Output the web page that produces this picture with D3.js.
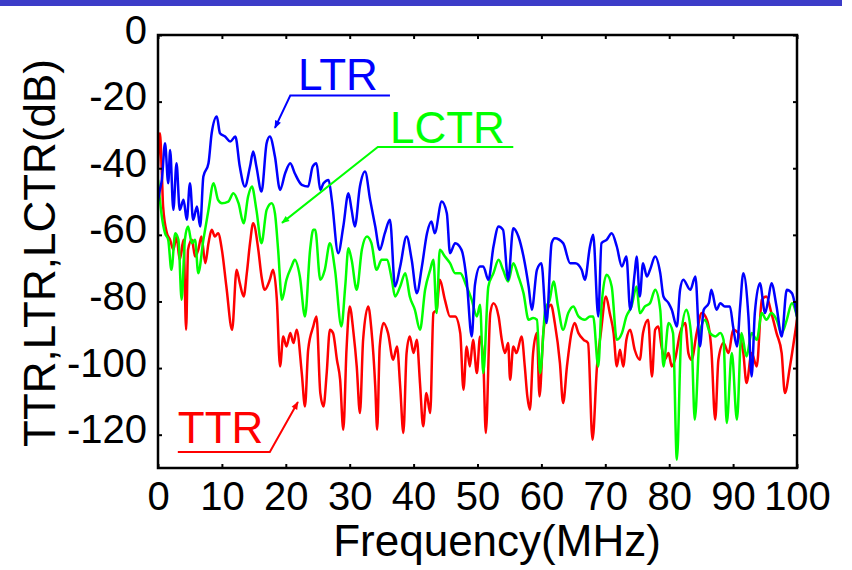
<!DOCTYPE html>
<html>
<head>
<meta charset="utf-8">
<script src="https://cdn.jsdelivr.net/npm/d3@7"></script>
<style>
  body { margin: 0; background: #fff; }
  text { font-family: "Liberation Sans", Arial, Helvetica, sans-serif; }
</style>
</head>
<body>
<svg width="852" height="570"></svg>
<script>
// LTR / LCTR / TTR spectra, [frequency MHz, dB]
const ltr = [
  [0,-50],[0.3,-46.5],[0.6,-43.5],[1.1,-32.5],[1.6,-44.5],[1.9,-34.5],[2.4,-52.5],[2.9,-38.5],[3.4,-52.5],
  [4.0,-49.5],[4.5,-55.5],[5.0,-44.5],[5.5,-55.5],[6.1,-51.5],[6.6,-57.5],[7.1,-42.5],[7.9,-38.5],[8.4,-29.5],
  [9.2,-24.5],[9.7,-29.5],[10.5,-30.5],[11.3,-32],[12.1,-30.5],[12.8,-39.5],[13.6,-45.5],[14.4,-39.5],[14.9,-35],
  [15.4,-39.5],[16.2,-47],[17.0,-32.5],[17.5,-30.5],[18.3,-36.5],[19.1,-46.5],[19.9,-41.5],[20.7,-38.5],[21.4,-41.5],
  [22.5,-45],[23.5,-45.5],[24.2,-39.5],[24.8,-38.5],[25.4,-46.5],[25.9,-44.5],[26.7,-43.5],[27.2,-49.5],[28.2,-65.5],
  [29.0,-57.5],[29.8,-47.5],[30.3,-52.5],[30.8,-57.5],[31.6,-45.5],[32.4,-41],[33.2,-49.5],[34.0,-57.5],[34.7,-64.5],
  [35.5,-59.5],[36.3,-55.5],[37.1,-75.5],[37.9,-69.5],[38.9,-60.5],[39.7,-67.5],[40.5,-77.5],[41.3,-69.5],[42.1,-59.5],
  [42.8,-56],[43.3,-59.5],[44.4,-50],[45.2,-53.5],[45.7,-65.5],[46.5,-62.5],[47.5,-64.5],[48.3,-73.5],[49.1,-90.5],
  [49.6,-75],[50.4,-69.5],[50.9,-69.5],[51.7,-73.5],[52.5,-63.5],[53.3,-57.5],[54.0,-58.5],[54.8,-73.5],[55.6,-58],
  [56.4,-60.5],[57.2,-66.5],[58.0,-75.5],[58.5,-82.5],[59.3,-70.5],[60.0,-68.5],[60.8,-86.5],[61.6,-62.5],[62.1,-61],
  [63.4,-62.5],[64.5,-68.5],[65.3,-68.5],[66.3,-70.5],[66.8,-73.5],[67.6,-63.5],[68.1,-60],[68.9,-84.5],[69.4,-62.5],
  [70.2,-61.5],[71.0,-59.5],[71.8,-63.5],[72.6,-69.5],[73.3,-66.5],[73.9,-82.5],[74.6,-71.5],[74.9,-66.5],[75.4,-78.5],
  [75.9,-68.5],[76.5,-72.5],[77.0,-70.5],[77.8,-66.5],[78.6,-71.5],[79.1,-78.5],[79.9,-80.5],[80.4,-82.5],[81.2,-87.5],
  [81.7,-76.5],[82.2,-73.5],[83.3,-76.5],[84.1,-72.5],[84.8,-93.5],[85.4,-82.5],[86.2,-80.5],[86.6,-76.5],[87.4,-82.5],
  [88.0,-80.5],[88.7,-81.5],[89.5,-81.5],[90.0,-87.5],[90.6,-93.5],[91.1,-81.5],[91.6,-71.5],[92.4,-84.5],[92.9,-102.5],
  [93.4,-83.5],[94.2,-74.5],[95.0,-83.5],[95.5,-79.5],[96.0,-74.5],[96.8,-81.5],[97.6,-90.5],[98.4,-76.5],[99.2,-77.5],
  [100,-84.5]
];

const lctr = [
  [0,-43.5],[0.6,-54.5],[1.1,-59.5],[1.6,-61.5],[2.1,-70.5],[2.7,-59.5],[3.2,-61.5],[3.7,-79.5],[4.2,-61.5],
  [4.7,-57.5],[5.3,-62.5],[5.8,-61.5],[6.3,-71.5],[7.1,-61.5],[7.9,-52.5],[8.7,-44.5],[9.4,-49.5],[10.0,-50.5],
  [11.0,-50],[11.8,-47.5],[12.6,-50.5],[13.4,-56.5],[14.1,-48.5],[14.7,-45.5],[15.4,-52.5],[16.2,-62.5],[17.0,-52.5],
  [17.8,-50.5],[18.3,-53.5],[18.8,-64.5],[19.4,-79.5],[20.1,-73.5],[20.9,-69.5],[21.4,-67.5],[22.2,-72.5],[23.0,-84.5],
  [23.8,-64.5],[24.3,-58.5],[24.6,-58.5],[25.4,-73.5],[26.1,-70.5],[26.9,-62.5],[27.7,-70.5],[28.7,-87.5],[29.3,-75.5],
  [29.8,-64],[30.3,-67.5],[31.1,-76.5],[31.9,-64.5],[32.7,-60.5],[33.4,-62.5],[34.2,-70.5],[35.0,-67.5],[35.8,-67.5],
  [36.6,-73.5],[37.1,-78.5],[37.9,-75.5],[38.7,-71.5],[39.4,-78.5],[40.2,-82.5],[41.0,-88.5],[41.8,-76.5],[42.6,-70.5],
  [43.1,-67.5],[43.6,-83.5],[44.1,-64.5],[44.9,-66.5],[45.7,-68.5],[46.5,-71.5],[47.3,-71.5],[48.3,-75.5],[49.1,-79.5],
  [49.9,-84.5],[50.4,-81],[50.9,-101.5],[51.7,-75.5],[52.5,-71.5],[53.3,-67.5],[54.0,-70.5],[54.8,-74],[55.6,-68.5],
  [56.4,-72.5],[57.2,-77.5],[58.0,-85.5],[58.7,-85],[59.3,-85.5],[59.8,-101.5],[60.6,-82.5],[61.3,-79.5],[61.9,-74],
  [62.6,-81.5],[63.4,-88.5],[64.2,-83.5],[65.0,-81.5],[65.8,-84.5],[66.8,-85.5],[67.6,-84.5],[68.1,-84.5],[68.9,-99.5],
  [69.4,-81.5],[70.2,-72],[71.0,-75.5],[71.8,-91.5],[72.6,-89.5],[73.3,-84.5],[74.1,-81.5],[74.9,-75.5],[75.4,-83.5],
  [76.2,-81.5],[77.0,-80.5],[77.8,-76.5],[78.6,-82.5],[79.1,-99.5],[79.9,-86.5],[80.6,-89.5],[81.2,-127.5],[81.9,-89.5],
  [82.7,-82.5],[83.5,-91.5],[84.0,-115.5],[84.8,-89.5],[85.6,-85.5],[86.4,-89.5],[87.2,-90.5],[88.0,-89.5],[88.5,-91.5],
  [89.0,-116.5],[89.8,-95.5],[90.6,-115.5],[91.3,-89.5],[92.1,-96.5],[92.9,-89.5],[93.7,-91.5],[94.5,-83.5],[95.2,-85.5],
  [96.0,-83.5],[96.8,-85.5],[97.6,-89.5],[98.4,-85.5],[99.2,-80.5],[100,-84.5]
];

const ttr = [
  [0,-40],[0.3,-29.5],[0.6,-41.5],[0.8,-51.5],[1.4,-59.5],[1.9,-61.5],[2.4,-64.5],[2.9,-60.5],[3.4,-67.5],
  [4.0,-61.5],[4.4,-88.5],[4.7,-64.5],[5.3,-61.5],[5.8,-66.5],[6.3,-64.5],[6.8,-60.5],[7.4,-68.5],[7.9,-62.5],
  [8.4,-58.5],[8.9,-60.5],[9.4,-59.5],[10.0,-64.5],[10.7,-75.5],[11.6,-88.5],[12.3,-70.5],[12.8,-74.5],[13.4,-78.5],
  [13.9,-71.5],[14.4,-62.5],[14.9,-56.5],[15.7,-64.5],[16.2,-72.5],[16.7,-76.5],[17.5,-73.5],[18.0,-70.5],[18.6,-79.5],
  [19.1,-99.5],[19.6,-90.5],[20.1,-93.5],[20.7,-89.5],[21.2,-92.5],[21.7,-88.5],[22.5,-101.5],[23.0,-111.5],[23.5,-94.5],
  [24.3,-87.5],[24.8,-84.5],[25.4,-107.5],[25.9,-111.5],[26.4,-101.5],[26.9,-88.5],[27.4,-89.5],[28.0,-97.5],[28.5,-103.5],
  [29.0,-118.5],[29.5,-94.5],[30.0,-81.5],[30.6,-89.5],[31.1,-99.5],[31.6,-113.5],[32.1,-91.5],[32.9,-81.5],[33.4,-88.5],
  [34.0,-105.5],[34.3,-118.5],[34.7,-93.5],[35.3,-86.5],[36.0,-89.5],[36.8,-97.5],[37.4,-93.5],[37.9,-105.5],[38.4,-119.5],
  [38.9,-95.5],[39.4,-90.5],[40.0,-95.5],[40.5,-91.5],[41.0,-104.5],[41.5,-117.5],[42.0,-107.5],[42.6,-113.5],[43.1,-83.5],
  [43.6,-82.5],[44.1,-73.5],[44.9,-79.5],[45.7,-84.5],[46.5,-84.5],[47.3,-89.5],[47.8,-106.5],[48.3,-93.5],[48.8,-99.5],
  [49.3,-91.5],[49.9,-101.5],[50.4,-90.5],[50.9,-97.5],[51.3,-119.5],[52.0,-83.5],[52.5,-80.5],[53.3,-84.5],[53.8,-91.5],
  [54.3,-95.5],[54.8,-92.5],[55.1,-103.5],[55.6,-93.5],[56.1,-95.5],[56.9,-90.5],[57.4,-99.5],[57.8,-108.5],[58.2,-112.5],
  [58.7,-95.5],[59.3,-89.5],[59.7,-108.5],[60.3,-89.5],[60.8,-83.5],[61.5,-81],[62.1,-86.5],[62.9,-98.5],[63.4,-110.5],
  [64.0,-99.5],[64.7,-89.5],[65.2,-86.5],[65.8,-89.5],[66.6,-91.5],[67.3,-92.5],[68.0,-121.5],[68.7,-99.5],[69.3,-89.5],
  [70.1,-78.5],[70.7,-83.5],[71.3,-89.5],[71.8,-99.5],[72.3,-94.5],[72.8,-99.5],[73.3,-91.5],[73.9,-88.5],[74.6,-94.5],
  [75.4,-97.5],[75.9,-89.5],[76.7,-85.5],[77.3,-102.5],[77.8,-88.5],[78.3,-87.5],[78.8,-93.5],[79.3,-97.5],[79.9,-95.5],
  [80.4,-99.5],[80.9,-97.5],[81.7,-89.5],[82.5,-86.5],[83.0,-95.5],[83.5,-97.5],[84.3,-89.5],[85.1,-83.5],[85.9,-85.5],
  [86.6,-94.5],[87.2,-115.5],[87.7,-97.5],[88.5,-92.5],[89.3,-95.5],[90.0,-88.5],[90.8,-89.5],[91.6,-95.5],[92.1,-104.5],
  [92.9,-95.5],[93.7,-99.5],[94.5,-79.5],[95.2,-78.5],[96.0,-83.5],[96.8,-89.5],[97.6,-95.5],[98.1,-107.5],[98.9,-99.5],
  [99.7,-89.5],[100,-85.5]
];

const xTicks = d3.range(0, 101, 10);
const yTicks = [0, -20, -40, -60, -80, -100, -120];

// labels: text start, underline + arrow (last point is the tip), data units
const notes = [
  { name: "LTR",  color: "#0000ff", text: [21.9, -16.5], line: [[36.3, -18.2], [20.7, -18.2], [18.3, -27.9]] },
  { name: "LCTR", color: "#00ff00", text: [36.3, -32.4], line: [[55.6, -33.6], [34.4, -33.6], [19.4, -56.4]] },
  { name: "TTR",  color: "#ff0000", text: [3.1, -122.6], line: [[3.1, -125.2], [17.5, -125.2], [21.9, -110.2]] }
];

const svg = d3.select("svg");
const margin = { top: 35, right: 55, bottom: 102, left: 158 };
const width = +svg.attr("width") - margin.left - margin.right;
const height = +svg.attr("height") - margin.top - margin.bottom;

// blue bar across the top
svg.append("rect").attr("x", 0).attr("y", 0).attr("width", 842).attr("height", 6).attr("fill", "#3c3cc8");

const x = d3.scaleLinear().domain([0, 100]).range([0, width]);
const y = d3.scaleLinear().domain([-130, 0]).range([height, 0]);

const g = svg.append("g").attr("transform", `translate(${margin.left},${margin.top})`);

g.append("clipPath").attr("id", "clip")
  .append("rect").attr("width", width).attr("height", height);

const line = d3.line().curve(d3.curveMonotoneX).x(d => x(d[0])).y(d => y(d[1]));
const plot = g.append("g").attr("clip-path", "url(#clip)");
[[ttr, "#ff0000"], [lctr, "#00ff00"], [ltr, "#0000ff"]].forEach(([data, color]) => {
  plot.append("path")
    .datum(data)
    .attr("d", line)
    .attr("fill", "none")
    .attr("stroke", color)
    .attr("stroke-width", 2.5)
    .attr("stroke-linejoin", "round");
});

// axes, ticks pointing inward, plain hyphen for negatives
const fmt = d => String(d);
const xAxis = g.append("g").attr("transform", `translate(0,${height})`)
  .call(d3.axisBottom(x).tickValues(xTicks).tickFormat(fmt).tickSize(-4).tickSizeOuter(0).tickPadding(14));
const yAxis = g.append("g")
  .call(d3.axisLeft(y).tickValues(yTicks).tickFormat(fmt).tickSize(-4).tickSizeOuter(0).tickPadding(11));
g.append("g")
  .call(d3.axisTop(x).tickValues(xTicks).tickSize(-4).tickSizeOuter(0).tickFormat(""));
g.append("g").attr("transform", `translate(${width},0)`)
  .call(d3.axisRight(y).tickValues(yTicks).tickSize(-4).tickSizeOuter(0).tickFormat(""));

g.selectAll(".domain").remove();
g.selectAll(".tick line").attr("stroke", "#000").attr("stroke-width", 2);
g.selectAll(".tick text").attr("font-size", 40).attr("fill", "#000")
  .attr("font-family", "'Liberation Sans', Arial, sans-serif");
yAxis.selectAll(".tick text").attr("dy", "0.2em");

// frame
g.append("rect")
  .attr("width", width).attr("height", height)
  .attr("fill", "none").attr("stroke", "#000").attr("stroke-width", 2.5);

svg.append("text")
  .attr("x", 497).attr("y", 556)
  .attr("text-anchor", "middle").attr("font-size", 44)
  .text("Frequency(MHz)");

svg.append("text")
  .attr("transform", "translate(55,253) rotate(-90)")
  .attr("text-anchor", "middle").attr("font-size", 44)
  .text("TTR,LTR,LCTR(dB)");

// series labels with arrows
const defs = svg.append("defs");
notes.forEach((n, i) => {
  defs.append("marker")
    .attr("id", "arrow" + i)
    .attr("viewBox", "0 0 10 10").attr("refX", 9).attr("refY", 5)
    .attr("markerWidth", 6).attr("markerHeight", 4)
    .attr("orient", "auto")
    .append("path").attr("d", "M0,1 L10,5 L0,9 Z").attr("fill", n.color);

  g.append("text")
    .attr("x", x(n.text[0])).attr("y", y(n.text[1]))
    .attr("font-size", 44).attr("fill", n.color)
    .text(n.name);

  g.append("path")
    .attr("d", d3.line().x(d => x(d[0])).y(d => y(d[1]))(n.line))
    .attr("fill", "none").attr("stroke", n.color).attr("stroke-width", 2)
    .attr("marker-end", `url(#arrow${i})`);
});
</script>
</body>
</html>
